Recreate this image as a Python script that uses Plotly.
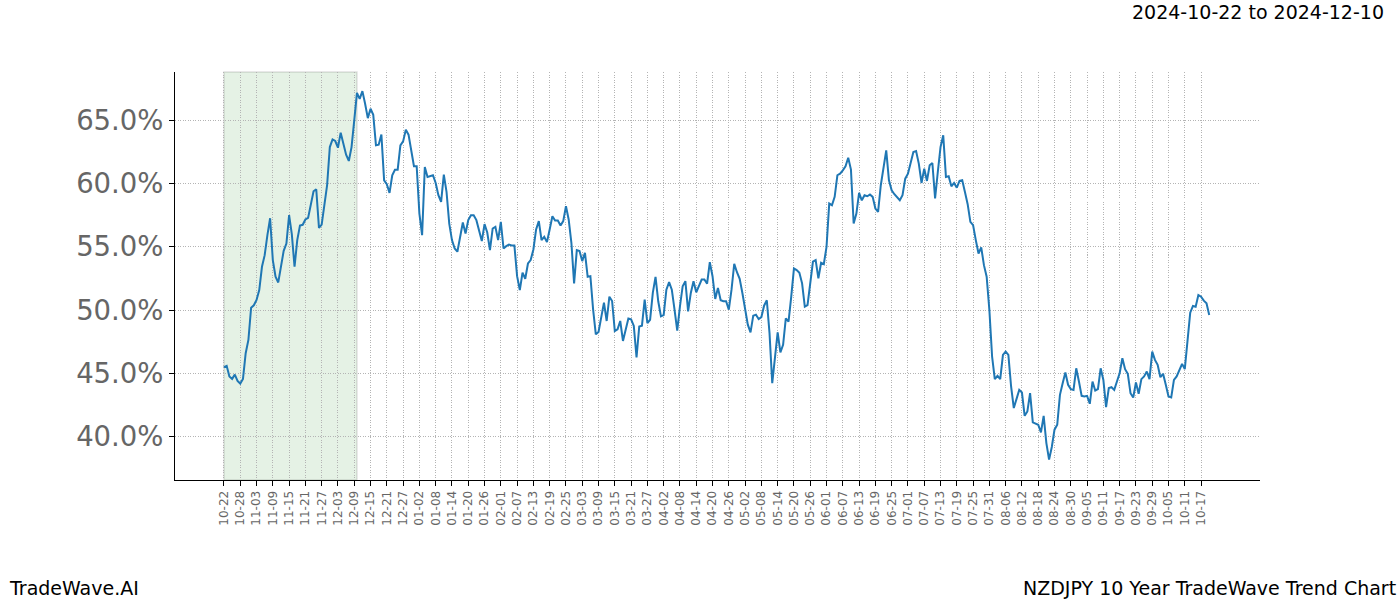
import pandas as pd
import plotly.graph_objects as go

start_date = "2024-10-22"
span_start = "2024-10-22"
span_end = "2024-12-10"

seg1 = [45.47, 45.58, 44.74, 44.55, 44.89, 44.39, 44.18, 44.55, 46.58, 47.63, 50.18, 50.37, 50.79, 51.58,
        53.42, 54.34, 55.92, 57.26, 53.95, 52.63, 52.18, 53.42, 54.68, 55.26, 57.5, 56.0, 53.42, 55.53,
        56.68, 56.74, 57.16, 57.29, 58.42, 59.39, 59.55, 56.5, 56.76, 58.42, 59.87, 62.89, 63.5, 63.37,
        62.84, 64.03, 63.16, 62.29, 61.79, 62.89, 65.0, 67.18, 66.71, 67.32]
seg2 = [66.32, 65.18, 65.92, 65.45, 63.03, 63.08, 63.89, 60.26, 59.95, 59.26, 60.66, 61.1, 61.1, 63.03,
        63.34, 64.26, 63.87, 62.5, 61.37, 61.37, 57.63, 55.92, 61.32, 60.53, 60.58, 60.66, 60.05, 59.08,
        58.55, 60.71, 59.34, 56.84, 55.53, 54.87, 54.61, 55.66, 56.92, 56.05, 57.11, 57.5, 57.5, 57.11,
        56.18, 55.45, 56.79, 56.13, 54.74, 56.45, 56.58, 55.53, 56.97, 54.87]
seg3 = [55.05, 55.18, 55.11, 55.11, 52.68, 51.58, 52.95, 52.47, 53.68, 53.95, 54.79, 56.37, 57.03, 55.53,
        55.79, 55.37, 56.37, 57.42, 57.08, 57.08, 56.68, 57.03, 58.21, 57.16, 55.32, 52.11, 54.74, 54.66,
        53.87, 54.53, 52.63, 52.68, 50.05, 48.08, 48.26, 49.32, 50.58, 49.13, 51.05, 50.71, 48.34, 48.47,
        49.13, 47.55, 48.34, 49.32, 49.26, 48.74, 46.24]
seg4 = [48.7, 48.76, 50.82, 48.97, 49.23, 51.35, 52.62, 50.69, 49.5, 49.6, 51.61, 52.2, 51.61, 50.03,
        48.36, 50.29, 51.88, 52.28, 49.89, 51.35, 52.28, 51.4, 51.88, 52.41, 52.41, 52.09, 53.78, 52.67,
        50.87, 51.75, 50.77, 50.69, 50.69, 50.03, 51.61, 53.65, 52.99, 52.46, 51.35, 50.03, 48.84, 48.23,
        49.55, 49.63, 49.29, 49.44, 50.34, 50.77, 48.17, 44.21, 46.06, 48.23]
seg5 = [46.64, 47.24, 49.34, 49.08, 51.05, 53.29, 53.16, 52.95, 52.11, 50.26, 50.39, 52.37, 53.82, 53.95,
        52.5, 53.74, 53.63, 55.0, 58.42, 58.29, 58.95, 60.66, 60.79, 61.05, 61.37, 62.05, 61.11, 56.84,
        57.63, 59.26, 58.68, 59.08, 59.0, 59.13, 58.95, 58.03, 57.76, 59.87, 61.32, 62.63, 60.26, 59.47,
        59.16, 58.89, 58.68, 59.08, 60.39, 60.79, 61.71, 62.5, 62.58]
seg6 = [61.58, 60.05, 61.18, 60.21, 61.45, 61.63, 58.82, 60.92, 62.89, 63.82, 60.53, 60.58, 59.79, 60.05,
        59.68, 60.21, 60.26, 59.34, 58.37, 56.97, 56.71, 55.53, 54.47, 54.95, 53.55, 52.63, 50.0, 46.32,
        44.53, 44.79, 44.53, 46.45, 46.71, 46.45, 43.95, 42.24, 42.95, 43.68, 43.47, 41.63, 41.97, 43.42,
        41.11, 41.0, 40.92, 40.32, 41.63, 39.47, 38.16, 39.16, 40.53, 40.92]
seg7 = [43.29, 44.21, 45.05, 44.08, 43.74, 43.68, 45.39, 44.34, 43.21, 43.16, 43.21, 42.58, 44.34, 43.63,
        43.74, 45.39, 44.47, 42.32, 43.82, 43.89, 43.68, 44.34, 45.0, 46.18, 45.32, 44.95, 43.42, 43.08,
        44.26, 43.37, 44.53, 44.74, 45.13, 44.53, 46.71, 46.05, 45.66, 44.68, 44.95, 44.08, 43.16, 43.08,
        44.47, 44.74, 45.26, 45.74, 45.32, 47.63, 49.79, 50.32, 50.26, 51.18, 51.05, 50.74, 50.53, 49.61]

values = seg1 + seg2 + seg3 + seg4 + seg5 + seg6 + seg7
dates = pd.date_range(start_date, periods=len(values), freq="D")

tick_dates = pd.date_range(start_date, periods=61, freq="6D")
tick_labels = [d.strftime("%m-%d") for d in tick_dates]
y_ticks = [40, 45, 50, 55, 60, 65]
y_labels = [f"{v:.1f}%" for v in y_ticks]

title_text = "2024-10-22 to 2024-12-10"
left_text = "TradeWave.AI"
right_text = "NZDJPY 10 Year TradeWave Trend Chart"

fig = go.Figure()
fig.add_trace(go.Scatter(x=dates, y=values, mode="lines",
                         line=dict(color="#1f77b4", width=2), showlegend=False,
                         hoverinfo="skip"))

fig.add_shape(type="rect", xref="x", yref="paper", x0=span_start, x1=span_end, y0=0, y1=1,
              fillcolor="rgba(0,128,0,0.1)", line=dict(color="rgba(0,0,0,0.12)", width=1.5),
              layer="below")

grid = dict(showgrid=True, gridcolor="#b4b4b4", gridwidth=0.8, griddash="1px,1.5px")
fig.update_xaxes(range=["2024-10-03 23:00", "2025-11-07 17:00"], tickvals=tick_dates,
                 ticktext=tick_labels, tickangle=-90, ticks="outside", ticklen=5, tickcolor="black",
                 tickfont=dict(family="DejaVu Sans", size=12, color="#666666"),
                 showline=True, linecolor="black", linewidth=1, zeroline=False, **grid)
fig.update_yaxes(range=[36.55, 68.83], tickvals=y_ticks, ticktext=y_labels, ticks="outside",
                 ticklen=5, tickcolor="black",
                 tickfont=dict(family="DejaVu Sans", size=27.5, color="#666666"),
                 showline=True, linecolor="black", linewidth=1, zeroline=False, **grid)

W, H = 1400, 600
L, R, T, B = 175, 140, 72, 120
pw, ph = W - L - R, H - T - B


def px(x):
    return (x - L) / pw


def py(y):
    return (H - B - y) / ph


fig.add_annotation(text=title_text, xref="paper", yref="paper", x=px(1386), y=py(12),
                   xanchor="right", yanchor="middle", showarrow=False,
                   font=dict(family="DejaVu Sans", size=19, color="black"))
fig.add_annotation(text=left_text, xref="paper", yref="paper", x=px(7), y=py(588),
                   xanchor="left", yanchor="middle", showarrow=False,
                   font=dict(family="DejaVu Sans", size=19, color="black"))
fig.add_annotation(text=right_text, xref="paper", yref="paper", x=px(1398), y=py(588),
                   xanchor="right", yanchor="middle", showarrow=False,
                   font=dict(family="DejaVu Sans", size=19, color="black"))

fig.update_layout(width=W, height=H, margin=dict(l=L, r=R, t=T, b=B, autoexpand=False),
                  plot_bgcolor="white", paper_bgcolor="white",
                  font=dict(family="DejaVu Sans"))

fig.write_html("out.html")
